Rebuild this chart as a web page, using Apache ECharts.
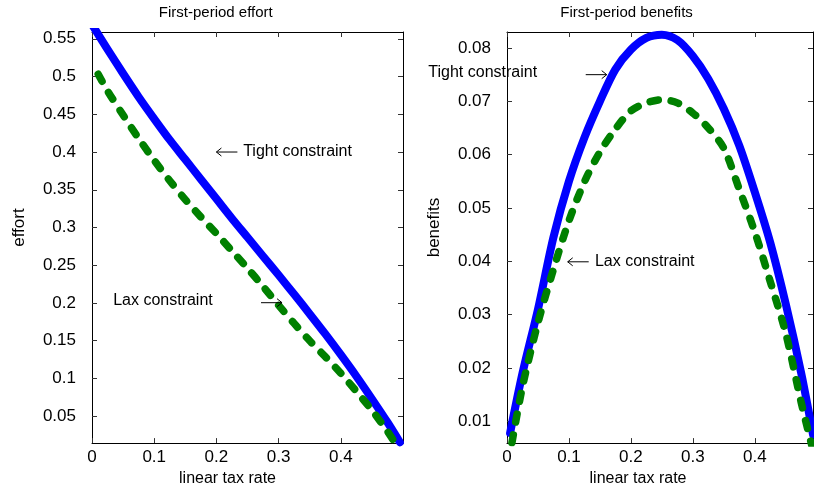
<!DOCTYPE html>
<html>
<head>
    <meta charset="UTF-8">
    <title>First-period effort and benefits</title>
    <script src="https://cdn.jsdelivr.net/npm/echarts@6/dist/echarts.min.js"></script>
</head>
<body style="margin:0;background:#fff">
    <div id="main" style="width:814px;height:492px;"></div>
    <script>
        // effort panel (left)
        var effortTightX = [0, 0.025, 0.05, 0.075, 0.1, 0.125, 0.15, 0.175, 0.2, 0.225, 0.25, 0.275, 0.3, 0.325, 0.35, 0.375, 0.4, 0.425, 0.45, 0.475, 0.495];
        var effortTight = [0.569, 0.536, 0.504, 0.473, 0.444, 0.416, 0.390, 0.364, 0.338, 0.312, 0.287, 0.262, 0.237, 0.2115, 0.1855, 0.159, 0.1315, 0.103, 0.073, 0.042, 0.0155];
        var effortLaxX = [0.01, 0.025, 0.05, 0.075, 0.1, 0.125, 0.15, 0.175, 0.2, 0.225, 0.25, 0.275, 0.3, 0.325, 0.35, 0.375, 0.4, 0.425, 0.45, 0.475, 0.49];
        var effortLax = [0.503, 0.481, 0.449, 0.418, 0.389, 0.362, 0.337, 0.314, 0.292, 0.269, 0.246, 0.222, 0.197, 0.173, 0.150, 0.129, 0.107, 0.083, 0.058, 0.030, 0.011];

        // benefits panel (right)
        var benefitsTightX = [0.005, 0.025, 0.05, 0.075, 0.1, 0.125, 0.15, 0.175, 0.2, 0.225, 0.25, 0.275, 0.3, 0.325, 0.35, 0.375, 0.4, 0.425, 0.45, 0.475, 0.494];
        var benefitsTight = [0.0078, 0.019, 0.031, 0.0445, 0.055, 0.0632, 0.070, 0.076, 0.0797, 0.0819, 0.0825, 0.0815, 0.0785, 0.0742, 0.0686, 0.0617, 0.053, 0.0435, 0.032, 0.019, 0.0075];
        var benefitsLaxX = [0.008, 0.025, 0.05, 0.075, 0.1, 0.125, 0.15, 0.175, 0.2, 0.225, 0.25, 0.275, 0.3, 0.325, 0.35, 0.375, 0.4, 0.425, 0.45, 0.475, 0.492];
        var benefitsLax = [0.006, 0.0165, 0.0285, 0.0385, 0.0476, 0.0549, 0.0605, 0.0648, 0.0682, 0.0697, 0.0703, 0.0697, 0.0678, 0.065, 0.0612, 0.0535, 0.0455, 0.0362, 0.0265, 0.0135, 0.0055];

        // tick labels
        var taxTicks = [0, 0.1, 0.2, 0.3, 0.4];
        var effortTicks = [0.05, 0.1, 0.15, 0.2, 0.25, 0.3, 0.35, 0.4, 0.45, 0.5, 0.55];
        var benefitsTicks = [0.01, 0.02, 0.03, 0.04, 0.05, 0.06, 0.07, 0.08];

        var FONT = "'Liberation Sans', Arial, sans-serif";
        var BLUE = '#0000ff', GREEN = '#008000';

        function pairs(xs, ys) {
            return xs.map(function (x, i) { return [x, ys[i]]; });
        }
        function fmt(v) { return String(parseFloat(v.toFixed(3))); }

        function xAx(grid, max, withLabels, name, shift) {
            var ax = {
                type: 'value', gridIndex: grid, min: 0, max: max,
                position: withLabels ? 'bottom' : 'top',
                axisLine: {show: true, onZero: false, lineStyle: {color: '#000', width: 1}},
                axisTick: {show: true, inside: true, length: 5, customValues: taxTicks, lineStyle: {color: '#333'}},
                axisLabel: {show: withLabels, customValues: taxTicks, formatter: fmt, margin: 6,
                    color: '#000', fontSize: 17, fontFamily: FONT},
                splitLine: {show: false}
            };
            if (withLabels) {
                ax.name = name;
                ax.nameLocation = 'middle';
                ax.nameGap = 23;
                ax.nameTextStyle = {color: '#000', fontSize: 16, fontFamily: FONT, padding: [0, shift, 0, 0]};
            }
            return ax;
        }
        function yAx(grid, min, max, ticks, withLabels, name) {
            var ax = {
                type: 'value', gridIndex: grid, min: min, max: max,
                position: withLabels ? 'left' : 'right',
                axisLine: {show: true, onZero: false, lineStyle: {color: '#000', width: 1}},
                axisTick: {show: true, inside: true, length: 5, customValues: ticks, lineStyle: {color: '#333'}},
                axisLabel: {show: withLabels, customValues: ticks, formatter: fmt, margin: 16,
                    color: '#000', fontSize: 17, fontFamily: FONT},
                splitLine: {show: false}
            };
            if (withLabels) {
                ax.name = name;
                ax.nameLocation = 'middle';
                ax.nameGap = 64;
                ax.nameTextStyle = {color: '#000', fontSize: 17, fontFamily: FONT, padding: [0, 0, 0, 20]};
            }
            return ax;
        }
        function line(xi, yi, data, color, dashed) {
            return {
                type: 'line', xAxisIndex: xi, yAxisIndex: yi, data: data,
                showSymbol: false, smooth: 0.3, clip: true, silent: true,
                lineStyle: {color: color, width: dashed ? 7.5 : 8, type: dashed ? [8, 13] : 'solid', cap: 'round', join: 'round'},
                z: dashed ? 3 : 2
            };
        }

        var chart = echarts.init(document.getElementById('main'));
        chart.setOption({
            animation: false,
            backgroundColor: '#fff',
            grid: [
                {left: 92, right: 411, top: 32, bottom: 47},
                {left: 507, right: 1, top: 32, bottom: 47}
            ],
            xAxis: [
                xAx(0, 0.5, true, 'linear tax rate', 40),
                xAx(0, 0.5, false),
                xAx(1, 0.494, true, 'linear tax rate', 44),
                xAx(1, 0.494, false)
            ],
            yAxis: [
                yAx(0, 0.0144, 0.559, effortTicks, true, 'effort'),
                yAx(0, 0.0144, 0.559, effortTicks, false),
                yAx(1, 0.0059, 0.083, benefitsTicks, true, 'benefits'),
                yAx(1, 0.0059, 0.083, benefitsTicks, false)
            ],
            series: [
                line(0, 0, pairs(effortTightX, effortTight), BLUE, false),
                line(0, 0, pairs(effortLaxX, effortLax), GREEN, true),
                line(2, 2, pairs(benefitsTightX, benefitsTight), BLUE, false),
                line(2, 2, pairs(benefitsLaxX, benefitsLax), GREEN, true)
            ]
        });

        // annotation texts and arrows, anchored in data coordinates of each panel
        var notes = [
            {grid: 0, at: [0.243, 0.4], text: 'Tight constraint'},
            {grid: 0, at: [0.034, 0.203], text: 'Lax constraint'},
            {grid: 1, at: [-0.127, 0.0753], text: 'Tight constraint'},
            {grid: 1, at: [0.142, 0.0399], text: 'Lax constraint'}
        ];
        var arrows = [
            {grid: 0, tip: [0.2, 0.4], dir: -1},
            {grid: 0, tip: [0.3055, 0.2004], dir: 1},
            {grid: 1, tip: [0.161, 0.075], dir: 1},
            {grid: 1, tip: [0.098, 0.0399], dir: -1}
        ];
        var graphics = notes.map(function (n) {
            var p = chart.convertToPixel({gridIndex: n.grid}, n.at);
            return {
                type: 'text', x: p[0], y: p[1], z: 10,
                style: {text: n.text, fill: '#000', font: '16px ' + FONT, textAlign: 'left', textVerticalAlign: 'middle'}
            };
        });
        arrows.forEach(function (a) {
            var p = chart.convertToPixel({gridIndex: a.grid}, a.tip);
            var tail = p[0] - a.dir * 21;
            graphics.push({
                type: 'polyline', z: 10, silent: true,
                shape: {points: [[tail, p[1]], [p[0], p[1]]]},
                style: {stroke: '#000', lineWidth: 1, fill: null}
            });
            graphics.push({
                type: 'polyline', z: 10, silent: true,
                shape: {points: [[p[0] - a.dir * 5, p[1] - 4], [p[0], p[1]], [p[0] - a.dir * 5, p[1] + 4]]},
                style: {stroke: '#000', lineWidth: 1, fill: null}
            });
        });
        var titles = [
            {grid: 0, at: [0.199, 0.559], text: 'First-period effort'},
            {grid: 1, at: [0.193, 0.083], text: 'First-period benefits'}
        ];
        titles.forEach(function (t) {
            var p = chart.convertToPixel({gridIndex: t.grid}, t.at);
            graphics.push({
                type: 'text', x: p[0], y: p[1] - 19, z: 10,
                style: {text: t.text, fill: '#000', font: '15px ' + FONT, textAlign: 'center', textVerticalAlign: 'middle'}
            });
        });
        chart.setOption({graphic: graphics});
    </script>
</body>
</html>
